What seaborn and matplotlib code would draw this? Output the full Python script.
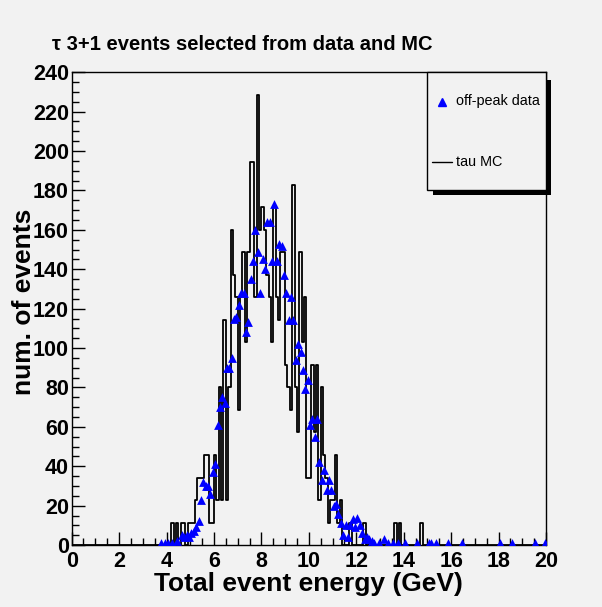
import numpy as np
import pandas as pd
import matplotlib
matplotlib.use("Agg")
import matplotlib.pyplot as plt
from matplotlib.patches import Rectangle
from matplotlib.lines import Line2D
from matplotlib.ticker import MultipleLocator
import seaborn as sns

# tau MC: lower bin edge (GeV) and raw MC counts, scaled to data by mc_scale
mc_lo = [4.2, 4.4, 4.6, 4.7, 4.9, 5.0, 5.1, 5.2, 5.3, 5.4, 5.5, 5.6, 5.7, 5.8, 5.9,
         6.0, 6.1, 6.2, 6.3, 6.4, 6.5, 6.6, 6.7, 6.8, 6.9, 7.0, 7.1, 7.2, 7.3, 7.4,
         7.5, 7.6, 7.7, 7.8, 7.9, 8.0, 8.1, 8.2, 8.3, 8.4, 8.5, 8.6, 8.7, 8.8, 8.9,
         9.0, 9.1, 9.2, 9.3, 9.4, 9.5, 9.6, 9.7, 9.8, 9.9, 10.0, 10.1, 10.2, 10.3,
         10.4, 10.5, 10.6, 10.7, 10.8, 10.9, 11.0, 11.1, 11.2, 11.3, 11.7, 12.3,
         13.6, 13.8, 14.7]
mc_counts = [1, 1, 1, 1, 1, 1, 1, 2, 3, 3, 3, 4, 4, 1, 1,
             4, 2, 7, 2, 10, 2, 7, 14, 12, 11, 6, 11, 13, 9, 13,
             17, 17, 11, 20, 14, 15, 14, 12, 11, 9, 15, 11, 10, 13, 13,
             8, 7, 6, 16, 7, 5, 13, 9, 11, 3, 3, 8, 5, 8,
             2, 7, 4, 3, 1, 2, 2, 4, 1, 2, 1, 1,
             1, 1, 1]
mc_scale = 11.43

# off-peak data: lower bin edge (GeV) and events per bin
data_lo = [3.7, 3.9, 4.0, 4.2, 4.4, 4.6, 4.7, 4.8, 4.9, 5.0, 5.1, 5.2, 5.3, 5.4,
           5.5, 5.6, 5.7, 5.8, 5.9, 6.0, 6.1, 6.2, 6.3, 6.4, 6.5, 6.6, 6.7, 6.8,
           6.9, 7.0, 7.1, 7.2, 7.3, 7.4, 7.5, 7.6, 7.7, 7.8, 7.9, 8.0, 8.1, 8.2,
           8.3, 8.4, 8.5, 8.6, 8.7, 8.8, 8.9, 9.0, 9.1, 9.2, 9.3, 9.4, 9.5, 9.6,
           9.7, 9.8, 9.9, 10.0, 10.1, 10.2, 10.3, 10.4, 10.5, 10.6, 10.7, 10.8,
           10.9, 11.0, 11.1, 11.2, 11.3, 11.4, 11.5, 11.6, 11.7, 11.8, 11.9, 12.0,
           12.1, 12.2, 12.3, 12.4, 12.5, 12.6, 12.7, 12.9, 13.1, 13.3, 13.5, 13.7,
           14.0, 14.5, 15.0, 15.1, 15.3, 15.8, 16.4, 18.0, 18.5, 19.5, 19.9]
data_n = [1, 1, 1, 1, 2, 5, 4, 5, 4, 6, 7, 9, 12, 23,
          32, 30, 30, 26, 37, 41, 61, 70, 75, 72, 90, 90, 95, 115,
          116, 122, 128, 128, 108, 113, 135, 144, 160, 149, 128, 145, 140, 164,
          164, 144, 173, 144, 153, 152, 137, 128, 114, 126, 114, 94, 102, 98,
          89, 79, 84, 61, 64, 55, 64, 42, 33, 38, 28, 33,
          28, 20, 21, 16, 11, 5, 10, 4, 10, 13, 9, 14,
          10, 6, 3, 4, 3, 2, 1, 1, 3, 1, 1, 1,
          1, 1, 1, 1, 1, 1, 1, 1, 1, 1, 1]

bin_w = 0.1
mc = pd.DataFrame({"energy": np.array(mc_lo) + bin_w / 2,
                   "w": np.array(mc_counts) * mc_scale})
data = pd.DataFrame({"energy": np.array(data_lo) + bin_w / 2, "n": data_n})

bg = "#f2f2f2"
sns.set_style("ticks")
plt.rcParams["font.family"] = ["Liberation Sans", "DejaVu Sans"]
plt.rcParams["text.color"] = "black"
plt.rcParams["axes.labelcolor"] = "black"
plt.rcParams["xtick.color"] = "black"
plt.rcParams["ytick.color"] = "black"

fig = plt.figure(figsize=(6.02, 6.07), dpi=100, facecolor=bg)
ax = fig.add_axes([0.119, 0.102, 0.788, 0.779])
ax.set_facecolor(bg)

sns.histplot(data=mc, x="energy", weights="w", binwidth=bin_w, binrange=(0, 20),
             element="step", fill=False, color="black", linewidth=1.3, ax=ax)
sns.scatterplot(data=data, x="energy", y="n", marker="^", color="blue", s=40,
                edgecolor="blue", linewidth=0, ax=ax, zorder=3)

ax.set_xlim(0, 20)
ax.set_ylim(0, 240)
ax.xaxis.set_major_locator(MultipleLocator(2))
ax.xaxis.set_minor_locator(MultipleLocator(0.5))
ax.yaxis.set_major_locator(MultipleLocator(20))
ax.yaxis.set_minor_locator(MultipleLocator(5))
ax.tick_params(which="both", direction="in", top=False, right=False, color="black")
ax.tick_params(which="major", length=9.5, width=1)
ax.tick_params(which="minor", length=5, width=1)
ax.tick_params(axis="x", labelsize=15.5, pad=4)
ax.tick_params(axis="y", labelsize=15.5, pad=2)
for lab in ax.get_xticklabels() + ax.get_yticklabels():
    lab.set_fontweight("bold")
for sp in ax.spines.values():
    sp.set_visible(True)
    sp.set_linewidth(1)
    sp.set_color("black")

ax.set_xlabel("Total event energy (GeV)", fontsize=19, fontweight="bold", labelpad=0)
ax.set_ylabel("num. of events", fontsize=19, fontweight="bold", labelpad=0)
ax.yaxis.set_label_coords(-0.076, 0.515)
fig.text(52 / 602, 1 - 45 / 607, "\u03c4 3+1 events selected from data and MC",
         fontsize=14.5, fontweight="bold", va="center", ha="left")

# legend box with ROOT-style drop shadow
W, H = 602, 607
def fx(px):
    return px / W
def fy(py):
    return 1 - py / H
fig.add_artist(Rectangle((fx(433), fy(195)), fx(118), 115 / H, transform=fig.transFigure,
                         facecolor="black", edgecolor="none", zorder=5))
fig.add_artist(Rectangle((fx(427), fy(190)), fx(119), 118 / H, transform=fig.transFigure,
                         facecolor=bg, edgecolor="black", linewidth=1, zorder=6))
fig.add_artist(Line2D([fx(441.7)], [fy(102)], marker="^", color="blue", markersize=5.5,
                      linestyle="none", transform=fig.transFigure, zorder=7))
fig.text(fx(456), fy(101), "off-peak data", fontsize=10.4, va="center", ha="left", zorder=7)
fig.add_artist(Line2D([fx(431.5), fx(451.5)], [fy(162), fy(162)], color="black", linewidth=1,
                      transform=fig.transFigure, zorder=7))
fig.text(fx(456), fy(162), "tau MC", fontsize=10.4, va="center", ha="left", zorder=7)

fig.savefig("out.png", dpi=100, facecolor=bg)
